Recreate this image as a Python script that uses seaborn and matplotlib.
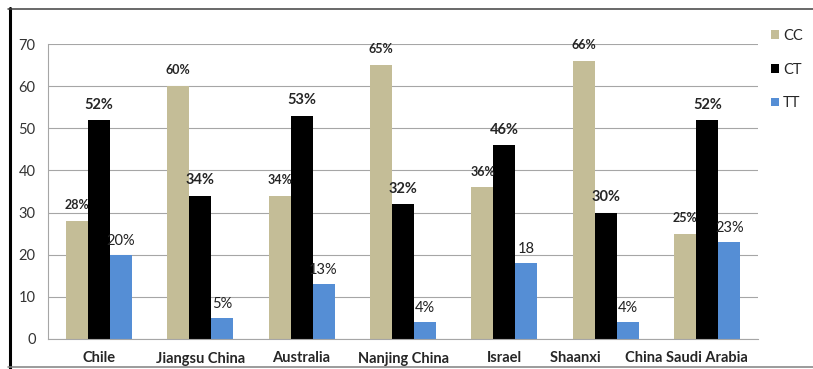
import matplotlib
matplotlib.use("Agg")
import matplotlib.pyplot as plt
from matplotlib.lines import Line2D
from matplotlib.patches import Patch
import seaborn as sns
import pandas as pd
import numpy as np

categories = ["Chile", "Jiangsu China", "Australia", "Nanjing China", "Israel",
              "Shaanxi       China", "Saudi Arabia"]
genotypes = ["CC", "CT", "TT"]
cc_values = [28, 60, 34, 65, 36, 66, 25]
ct_values = [52, 34, 53, 32, 46, 30, 52]
tt_values = [20, 5, 13, 4, 18, 4, 23]
cc_labels = ["28%", "60%", "34%", "65%", "36%", "66%", "25%"]
ct_labels = ["52%", "34%", "53%", "32%", "46%", "30%", "52%"]
tt_labels = ["20%", "5%", "13%", "4%", "18", "4%", "23%"]
y_ticks = [0, 10, 20, 30, 40, 50, 60, 70]

colors = {"CC": "#C4BD97", "CT": "#000000", "TT": "#558ED5"}

sns.set_style("white")
FONT = ["Liberation Sans Narrow", "Lato", "DejaVu Sans"]
plt.rcParams["font.family"] = FONT

df = pd.DataFrame({
    "category": categories * 3,
    "genotype": ["CC"] * 7 + ["CT"] * 7 + ["TT"] * 7,
    "value": cc_values + ct_values + tt_values,
})

fig = plt.figure(figsize=(8.13, 3.69), dpi=100)
ax = fig.add_axes([48 / 813, 30 / 369, 710 / 813, 295 / 369])

sns.barplot(data=df, x="category", y="value", hue="genotype", order=categories,
            hue_order=genotypes, palette=colors, width=0.65, gap=0,
            saturation=1, legend=False, ax=ax, edgecolor="none")

ax.set_ylim(0, 70)
ax.set_xlim(-0.5, len(categories) - 0.5)
ax.set_yticks(y_ticks)
ax.set_yticklabels([str(t) for t in y_ticks])
ax.set_xlabel("")
ax.set_ylabel("")
ax.grid(axis="y", color="#A6A6A6", linewidth=0.8)
ax.set_axisbelow(True)
for s in ["top", "right"]:
    ax.spines[s].set_visible(False)
for s in ["left", "bottom"]:
    ax.spines[s].set_color("#A6A6A6")
    ax.spines[s].set_linewidth(0.8)

ax.tick_params(axis="y", length=3, width=0.8, color="#A6A6A6", pad=6,
               labelsize=10.5, labelcolor="#333333")
ax.tick_params(axis="x", which="major", length=0, pad=9, labelsize=10.5)
ax.set_xticks(np.arange(-0.5, len(categories)), minor=True)
ax.tick_params(axis="x", which="minor", length=4, width=0.8, color="#A6A6A6")
for lbl in ax.get_xticklabels():
    lbl.set_fontweight("bold")

containers = ax.containers
label_sets = [cc_labels, ct_labels, tt_labels]
styles = [dict(fontsize=9, fontweight="bold", padding=7),
          dict(fontsize=10.5, fontweight="bold", padding=6),
          dict(fontsize=10.5, fontweight="normal", padding=5, color="#222222")]
for cont, labs, st in zip(containers, label_sets, styles):
    ax.bar_label(cont, labels=labs, **st)

handles = [Patch(facecolor=colors[g], edgecolor="none") for g in genotypes]
fig.legend(handles, genotypes, loc="upper left", bbox_to_anchor=(765 / 813, 1 - 23 / 369),
           frameon=False, fontsize=10.5, handlelength=0.55, handleheight=0.55,
           handletextpad=0.3, labelspacing=1.35, borderaxespad=0)

# frame lines of the original image
fig.add_artist(Line2D([9.5 / 813, 9.5 / 813], [0, 1 - 8 / 369], transform=fig.transFigure,
                      color="black", linewidth=2.2))
fig.add_artist(Line2D([8 / 813, 1], [1 - 8.5 / 369, 1 - 8.5 / 369], transform=fig.transFigure,
                      color="#404040", linewidth=1.1))
fig.add_artist(Line2D([8 / 813, 1], [2.5 / 369, 2.5 / 369], transform=fig.transFigure,
                      color="#808080", linewidth=1.1))

fig.savefig("out.png", dpi=100)
